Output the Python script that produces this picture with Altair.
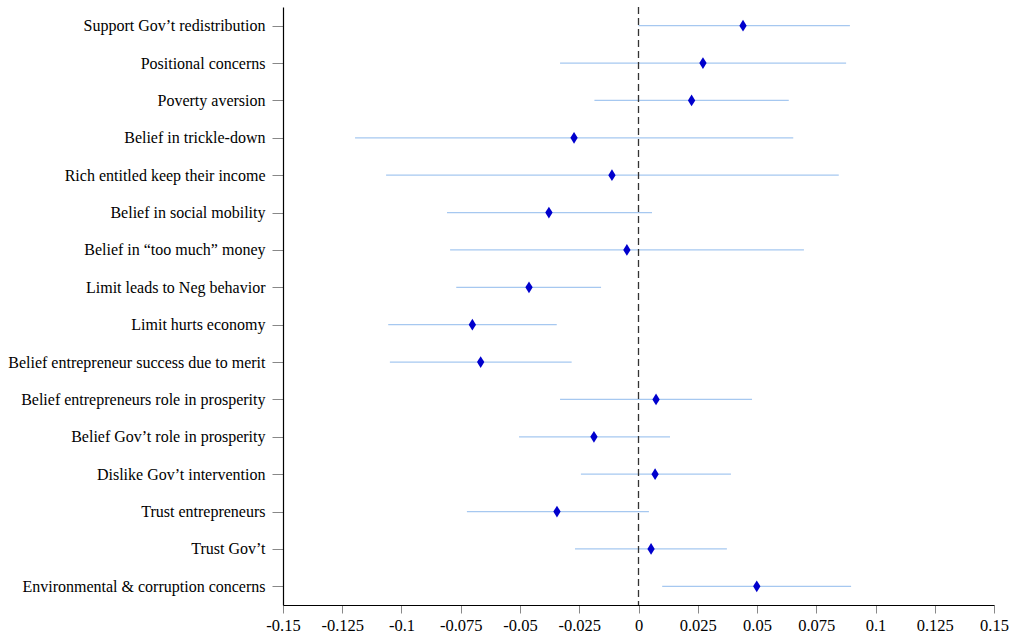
import altair as alt
import pandas as pd

categories = [
    "Support Gov\u2019t redistribution",
    "Positional concerns",
    "Poverty aversion",
    "Belief in trickle-down",
    "Rich entitled keep their income",
    "Belief in social mobility",
    "Belief in \u201ctoo much\u201d money",
    "Limit leads to Neg behavior",
    "Limit hurts economy",
    "Belief entrepreneur success due to merit",
    "Belief entrepreneurs role in prosperity",
    "Belief Gov\u2019t role in prosperity",
    "Dislike Gov\u2019t intervention",
    "Trust entrepreneurs",
    "Trust Gov\u2019t",
    "Environmental & corruption concerns",
]
estimates = [0.0441, 0.0272, 0.0224, -0.0272, -0.0112, -0.0378, -0.0049, -0.0462,
             -0.0701, -0.0666, 0.0074, -0.0188, 0.0070, -0.0344, 0.0053, 0.0499]
lower = [0.0000, -0.0331, -0.0186, -0.1196, -0.1065, -0.0808, -0.0795, -0.0769,
         -0.1056, -0.1049, -0.0331, -0.0504, -0.0243, -0.0724, -0.0268, 0.0100]
upper = [0.0892, 0.0876, 0.0634, 0.0653, 0.0845, 0.0057, 0.0698, -0.0158,
         -0.0345, -0.0282, 0.0479, 0.0133, 0.0390, 0.0044, 0.0373, 0.0897]
x_ticks = [-0.15, -0.125, -0.1, -0.075, -0.05, -0.025, 0, 0.025, 0.05, 0.075, 0.1, 0.125, 0.15]

df = pd.DataFrame({"cat": categories, "est": estimates, "lo": lower, "hi": upper})

FONT = "Liberation Serif"

x_scale = alt.Scale(domain=[-0.15, 0.15], nice=False, zero=False)
y_enc = alt.Y(
    "cat:N",
    sort=categories,
    scale=alt.Scale(type="point", padding=0.5),
    axis=alt.Axis(
        title=None,
        domainColor="black",
        domainWidth=1.2,
        tickColor="#888888",
        tickSize=11,
        labelPadding=7,
        labelFont=FONT,
        labelFontSize=16,
        labelColor="black",
        labelLimit=400,
    ),
)

base = alt.Chart(df)

ci = base.mark_rule(color="#a6c8f0", strokeWidth=1.3).encode(
    x=alt.X(
        "lo:Q",
        scale=x_scale,
        axis=alt.Axis(
            title=None,
            values=x_ticks,
            labelExpr="'' + datum.value",
            domainColor="black",
            domainWidth=1.2,
            tickColor="#888888",
            tickSize=8,
            labelPadding=4,
            labelFont=FONT,
            labelFontSize=16.5,
            labelColor="black",
            grid=False,
            labelFlush=False,
            labelOverlap=False,
        ),
    ),
    x2="hi:Q",
    y=y_enc,
)

zero = alt.Chart(pd.DataFrame({"z": [0]})).mark_rule(
    color="#333333", strokeDash=[7, 4], strokeWidth=1.3
).encode(x=alt.X("z:Q", scale=x_scale))

pts = base.mark_point(
    shape="M0,-1L0.62,0L0,1L-0.62,0Z",
    filled=True,
    color="#0000cd",
    opacity=1,
    size=140,
).encode(x=alt.X("est:Q", scale=x_scale), y=alt.Y("cat:N", sort=categories))

chart = (
    alt.layer(ci, zero, pts)
    .properties(
        width=711,
        height=598,
        autosize=alt.AutoSizeParams(type="none"),
        padding={"left": 283, "top": 7, "right": 17, "bottom": 34},
    )
    .configure_view(stroke=None)
    .configure_axis(grid=False)
)

chart.save("out.html", embed_options={"renderer": "svg", "actions": False})
